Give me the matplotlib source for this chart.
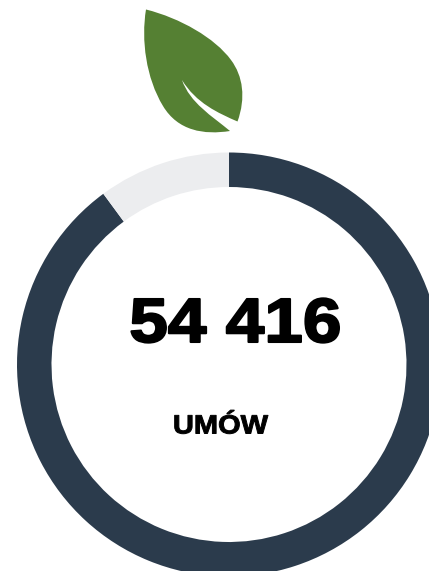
import matplotlib
matplotlib.use('Agg')
import matplotlib.pyplot as plt
import matplotlib.patheffects as pe
from matplotlib.path import Path
from matplotlib.patches import PathPatch
from matplotlib.transforms import Affine2D

## Chart data
shares = [89.9, 10.1]
colors = ['#2b3b4c', '#ecedef']
total_label = '54 416'
unit_label = 'UMÓW'

W, H = 429, 571


class WideText(pe.AbstractPathEffect):
    """Heavier and wider glyphs, the reference font is close to Arial Black"""

    def __init__(self, center, stretch, stroke):
        super().__init__()
        self.center = center
        self.stretch = stretch
        self.stroke = stroke

    def draw_path(self, renderer, gc, tpath, affine, rgbFace=None):
        wide = affine + Affine2D().translate(-self.center, 0).scale(self.stretch, 1).translate(self.center, 0)
        gc0 = renderer.new_gc()
        gc0.copy_properties(gc)
        gc0.set_foreground('black')
        gc0.set_linewidth(self.stroke)
        renderer.draw_path(gc0, tpath, wide, rgbFace)
        gc0.restore()


fig = plt.figure(figsize=(W/100, H/100), dpi=100)
ax = fig.add_axes([0, 0, 1, 1])

# donut, first slice runs clockwise from 12 o'clock
ax.pie(shares, colors=colors, startangle=90, counterclock=False,
       center=(229, H-364.5), radius=212,
       wedgeprops={'width': 34.5, 'linewidth': 0})
ax.set_xlim(0, W)
ax.set_ylim(0, H)
ax.set_aspect('equal')
ax.axis('off')

# leaf above the ring, outline in image pixels
def py(y):
    return H-y

leaf_verts = [(146, 9.5),
              (180, 18), (215, 38), (231, 60),
              (243, 76), (246, 98), (237.5, 121.5),
              (218, 113), (196, 103), (182, 80),
              (190, 103), (212, 116), (230, 131),
              (204, 135), (178, 131), (163, 106),
              (146, 78), (141, 40), (146, 9.5)]
leaf_codes = [Path.MOVETO] + [Path.CURVE4]*18
leaf = Path([(x, py(y)) for x, y in leaf_verts], leaf_codes)
ax.add_patch(PathPatch(leaf, fc='#558033', ec='none'))

font = ['Liberation Sans', 'DejaVu Sans']
ax.text(235.5, py(319), total_label, ha='center', va='center_baseline',
        fontsize=45, fontweight='bold', family=font, color='black',
        path_effects=[WideText(235.5, 1.11, 1.5)])
ax.text(220.5, py(424), unit_label, ha='center', va='center_baseline',
        fontsize=19, fontweight='bold', family=font, color='black',
        path_effects=[WideText(220.5, 1.10, 0.7)])

fig.savefig('out.png', dpi=100, facecolor='white')
